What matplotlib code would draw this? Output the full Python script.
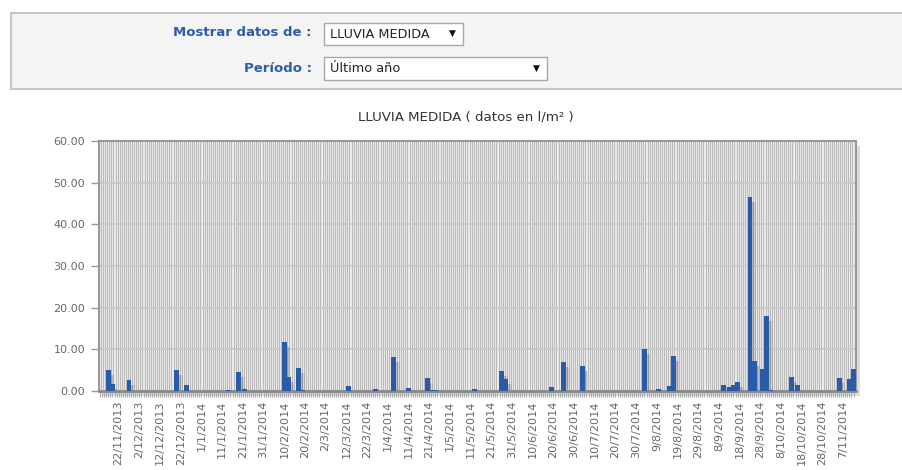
import numpy as np
import pandas as pd
import matplotlib
matplotlib.use('Agg')
import matplotlib.pyplot as plt
from matplotlib.patches import Rectangle

# daily rain over the last year, only the rainy days are listed
start_day = '2013-11-13'
n_days = 365
rain_dates = ['17/11/2013', '19/11/2013', '27/11/2013', '20/12/2013', '25/12/2013',
              '14/01/2014', '19/01/2014', '22/01/2014', '10/02/2014', '12/02/2014',
              '17/02/2014', '19/02/2014', '13/03/2014', '26/03/2014', '04/04/2014',
              '11/04/2014', '20/04/2014', '22/04/2014', '24/04/2014', '13/05/2014',
              '26/05/2014', '28/05/2014', '19/06/2014', '25/06/2014', '04/07/2014',
              '03/08/2014', '10/08/2014', '15/08/2014', '17/08/2014', '10/09/2014',
              '13/09/2014', '15/09/2014', '17/09/2014', '23/09/2014', '25/09/2014',
              '29/09/2014', '01/10/2014', '03/10/2014', '13/10/2014', '16/10/2014',
              '05/11/2014', '10/11/2014', '12/11/2014']
rain_mm = [5.0, 1.8, 2.7, 5.0, 1.4,
           0.2, 4.6, 0.5, 11.8, 3.4,
           5.6, 0.2, 1.1, 0.6, 8.2,
           0.8, 3.2, 0.3, 0.3, 0.4,
           4.9, 2.8, 1.0, 6.9, 6.1,
           10.2, 0.4, 1.2, 8.5, 1.4,
           0.9, 1.4, 2.2, 46.6, 7.2,
           5.2, 18.0, 0.2, 3.4, 1.4,
           3.2, 3.0, 5.2]

tick_labels = ['22/11/2013', '2/12/2013', '12/12/2013', '22/12/2013', '1/1/2014',
               '11/1/2014', '21/1/2014', '31/1/2014', '10/2/2014', '20/2/2014',
               '2/3/2014', '12/3/2014', '22/3/2014', '1/4/2014', '11/4/2014',
               '21/4/2014', '1/5/2014', '11/5/2014', '21/5/2014', '31/5/2014',
               '10/6/2014', '20/6/2014', '30/6/2014', '10/7/2014', '20/7/2014',
               '30/7/2014', '9/8/2014', '19/8/2014', '29/8/2014', '8/9/2014',
               '18/9/2014', '28/9/2014', '8/10/2014', '18/10/2014', '28/10/2014',
               '7/11/2014']
y_ticks = [0, 10, 20, 30, 40, 50, 60]

days = pd.date_range(start_day, periods=n_days)
daily = pd.Series(0.0, index=days)
daily[pd.to_datetime(rain_dates, format='%d/%m/%Y')] = rain_mm
xs = np.arange(n_days)
tick_pos = (pd.to_datetime(tick_labels, format='%d/%m/%Y') - days[0]).days

W, H = 903, 470
fig = plt.figure(figsize=(W/100, H/100), dpi=100)
fig.patch.set_facecolor('white')

def fx(x): return x/W
def fy(y): return 1 - y/H

# ---- form box on top
fig.patches.append(Rectangle((fx(11), fy(89)), fx(905-11), (89-13)/H, transform=fig.transFigure,
                             facecolor='#f4f4f4', edgecolor='#c6c6c6', lw=1.5, zorder=-5))
blue = '#2d5da8'
fig.text(fx(312), fy(33), 'Mostrar datos de :', ha='right', va='center', color=blue,
         fontsize=9.5, fontweight='bold')
fig.text(fx(312), fy(68), 'Período :', ha='right', va='center', color=blue,
         fontsize=9.5, fontweight='bold')
for (x0, y0, x1, y1) in [(324, 23, 463, 45), (324, 57, 547, 80)]:
    fig.patches.append(Rectangle((fx(x0), fy(y1)), (x1-x0)/W, (y1-y0)/H, transform=fig.transFigure,
                                 facecolor='white', edgecolor='#a8a8a8', lw=1, zorder=-4))
fig.text(fx(330), fy(34), 'LLUVIA MEDIDA', ha='left', va='center', color='#222', fontsize=9.3)
fig.text(fx(452), fy(33), '▼', ha='center', va='center', color='#111', fontsize=6.5)
fig.text(fx(330), fy(69), 'Último año', ha='left', va='center', color='#222', fontsize=9.3)
fig.text(fx(536), fy(68), '▼', ha='center', va='center', color='#111', fontsize=6.5)

fig.text(fx(466), fy(117), 'LLUVIA MEDIDA ( datos en l/m² )', ha='center', va='center',
         color='#333', fontsize=9.6)

# ---- chart
left, right, top, bottom = 99, 856, 141, 391
fig.patches.append(Rectangle((fx(left+4), fy(bottom+5)), (right-left)/W, (bottom-top)/H,
                             transform=fig.transFigure, facecolor='#dcdcdc', edgecolor='none', zorder=-5))
ax = fig.add_axes([fx(left), fy(bottom), (right-left)/W, (bottom-top)/H])
ax.set_facecolor('#eeeeee')

ax.set_xlim(-0.5, 365.2)
ax.set_ylim(0, 60)

for d in xs:
    ax.axvline(d + 0.5, color='#bababa', lw=0.8, zorder=0)
for v in y_ticks[1:-1]:
    ax.axhline(v, color='#c8c8c8', lw=1.2, zorder=1)

vals = daily.values
sh = np.clip(vals - 1.2, 0, None)
ax.bar(xs + 0.9, sh, width=2.4, color='#000000', alpha=0.13, zorder=2, lw=0)
ax.bar(xs + 1.7, sh, width=2.4, color='#000000', alpha=0.08, zorder=2, lw=0)
ax.bar(xs, vals, width=2.4, color='#2a5ba9', zorder=3, lw=0)

ax.set_yticks(y_ticks)
ax.set_yticklabels(['%.2f' % v for v in y_ticks], color='#666', fontsize=8)
ax.set_xticks(tick_pos)
ax.set_xticklabels(tick_labels, rotation=90, color='#666', fontsize=8.1)
ax.set_xticks(xs, minor=True)
ax.tick_params(axis='y', length=6, width=1, color='#999', pad=4)
ax.tick_params(axis='x', which='both', length=4, width=0.8, color='#aaa', pad=3)

for s in ['left', 'top', 'right']:
    ax.spines[s].set_color('#999')
    ax.spines[s].set_linewidth(1.5)
ax.spines['bottom'].set_color('#888')
ax.spines['bottom'].set_linewidth(2)

fig.savefig('out.png', dpi=100)
